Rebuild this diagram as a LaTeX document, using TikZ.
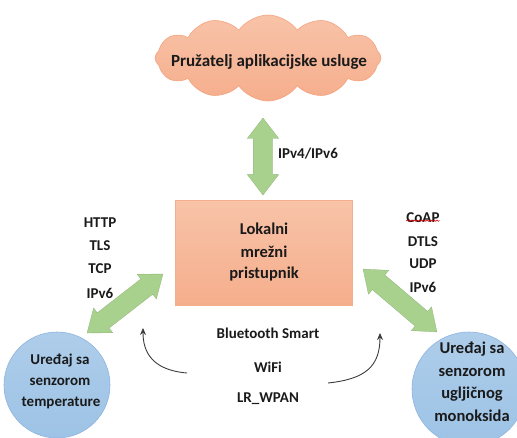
\documentclass[tikz,border=0pt]{standalone}
\usepackage{fontspec}
\setmainfont{Carlito}
\usetikzlibrary{shapes.symbols,shapes.arrows,arrows.meta,decorations.pathmorphing}
\definecolor{salmon}{HTML}{F5AE8C}
\definecolor{salmontop}{HTML}{F8C3A8}
\definecolor{salmonedge}{HTML}{F4A27E}
\definecolor{arrowgreen}{HTML}{A9D18E}
\definecolor{bluefill}{HTML}{9DC3E6}
\definecolor{bluetop}{HTML}{AECDEA}
\definecolor{blueedge}{HTML}{8FB4DE}
\definecolor{txt}{HTML}{1A1A1A}
\tikzset{
  lbl/.style={font=\bfseries\fontsize{15}{17}\selectfont, text=txt, inner sep=0pt, align=center},
  big/.style={font=\bfseries\fontsize{16.5}{19}\selectfont},
  rsens/.style={font=\bfseries\fontsize{16.5}{19}\selectfont},
  fatarrow/.style={double arrow, fill=arrowgreen, draw=arrowgreen!85!black, line width=0.3pt,
     inner sep=0pt, inner ysep=9.5pt, double arrow head extend=6pt, double arrow tip angle=75},
  sensor/.style={circle, top color=bluetop, bottom color=bluefill, draw=blueedge, line width=0.6pt},
  thinarrow/.style={-{Stealth[length=7pt,width=6pt]}, line width=0.9pt, draw=txt!85}
}
\begin{document}
\begin{tikzpicture}[x=1pt,y=-1pt]
\useasboundingbox (0,0) rectangle (517,437);
% cloud
\node[cloud, cloud puffs=12, cloud puff arc=110, aspect=2.7, minimum width=226pt, minimum height=86pt,
      top color=salmontop, bottom color=salmon, draw=salmonedge, line width=0.6pt] (cloud) at (268,58) {};
\node[lbl, font=\bfseries\fontsize{17}{19}\selectfont] (cloudlbl) at (269,62) {Pružatelj aplikacijske usluge};
% gateway
\node[rectangle, minimum width=177pt, minimum height=105pt, top color=salmontop, bottom color=salmon,
      draw=salmon, line width=0.4pt] (gw) at (264,252.5) {};
\node[lbl, big] (gwlbl1) at (264,229) {Lokalni};
\node[lbl, big] (gwlbl2) at (264,252) {mrežni};
\node[lbl, big] (gwlbl3) at (264,274) {pristupnik};
% vertical arrow
\node[fatarrow, minimum height=77pt, rotate=90] (varrow) at (263,156.5) {};
\node[lbl] (ipv) at (308,154) {IPv4/IPv6};
% sensors
\node[sensor, minimum size=106pt] (tsens) at (57,385) {};
\node[lbl] (ts1) at (60,360) {Uređaj sa};
\node[lbl] (ts2) at (60,382) {senzorom};
\node[lbl] (ts3) at (61,403) {temperature};
\node[sensor, minimum size=114pt] (csens) at (469,389) {};
\node[lbl, rsens] (cs1) at (472,349) {Uređaj sa};
\node[lbl, rsens] (cs2) at (472,372) {senzorom};
\node[lbl, rsens] (cs3) at (472,394) {ugljičnog};
\node[lbl, rsens] (cs4) at (472,416) {monoksida};
% diagonal arrows
\node[fatarrow, minimum height=96pt, rotate=37.8] (larrow) at (125,303.5) {};
\node[fatarrow, minimum height=97pt, rotate=-40.4] (rarrow) at (400,300.5) {};
% left protocol stack
\node[lbl] (http) at (100,223) {HTTP};
\node[lbl] (tls) at (100,246) {TLS};
\node[lbl] (tcp) at (100,269) {TCP};
\node[lbl] (ipl) at (100,293) {IPv6};
% right protocol stack
\node[lbl] (coap) at (423,218) {CoAP};
\draw[red!85!black, line width=0.5pt, decorate, decoration={snake, amplitude=0.7pt, segment length=2.5pt}]
  ([yshift=2.5pt]coap.south west) -- ([yshift=2.5pt]coap.south east);
\node[lbl] (dtls) at (423,242) {DTLS};
\node[lbl] (udp) at (423,264) {UDP};
\node[lbl] (ipr) at (423,287) {IPv6};
% radio links
\node[lbl] (bt) at (268,333) {Bluetooth Smart};
\node[lbl] (wifi) at (268,367) {WiFi};
\node[lbl] (lr) at (268,399) {LR\_WPAN};
\coordinate (la) at (187,373);
\coordinate (lb) at (143,328);
\coordinate (ra) at (328,383);
\coordinate (rb) at (380,333);
\draw[thinarrow] (la) .. controls (152,370) and (143,352) .. (lb);
\draw[thinarrow] (ra) .. controls (366,379) and (380,366) .. (rb);
\end{tikzpicture}
\end{document}
